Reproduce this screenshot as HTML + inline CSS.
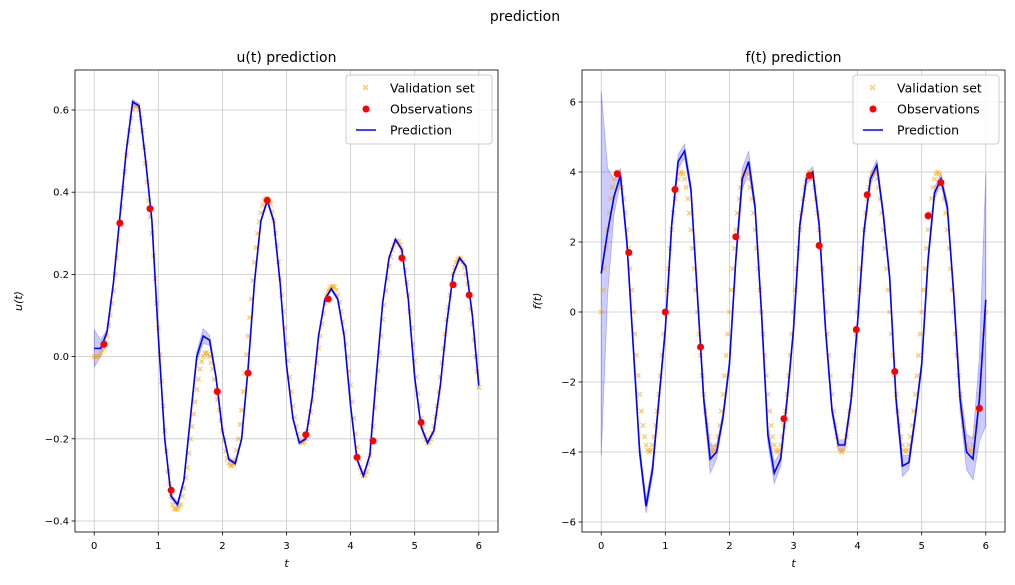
<!DOCTYPE html>
<html><head><meta charset="utf-8"><style>
html,body{margin:0;padding:0;background:#fff;overflow:hidden;width:1015px;height:585px}
svg{display:block}
svg text{font-family:"DejaVu Sans","Liberation Sans",sans-serif}
</style></head><body>
<svg id="fig" width="1015" height="585" xmlns="http://www.w3.org/2000/svg">
<text x="525" y="21" font-size="14" text-anchor="middle">prediction</text>
</svg>
<script>
const uVal=[0,0,0,0.005,0.01,0.015,0.02,0.035,0.05,0.075,0.1,0.13,0.16,0.2,0.24,0.28,0.32,0.365,0.41,0.45,0.49,0.52,0.55,0.58,0.6,0.61,0.61,0.61,0.6,0.58,0.55,0.51,0.47,0.425,0.38,0.34,0.3,0.245,0.19,0.13,0.07,0.005,-0.06,-0.12,-0.18,-0.23,-0.28,-0.31,-0.34,-0.36,-0.37,-0.372,-0.37,-0.365,-0.36,-0.34,-0.32,-0.295,-0.27,-0.235,-0.2,-0.17,-0.14,-0.11,-0.08,-0.055,-0.03,-0.012,0,0.008,0.01,0.006,0,-0.015,-0.03,-0.055,-0.08,-0.105,-0.13,-0.155,-0.18,-0.205,-0.23,-0.248,-0.26,-0.265,-0.265,-0.26,-0.25,-0.228,-0.2,-0.165,-0.13,-0.085,-0.04,0.005,0.05,0.095,0.14,0.185,0.23,0.265,0.3,0.328,0.35,0.368,0.38,0.385,0.385,0.38,0.37,0.352,0.33,0.3,0.27,0.23,0.19,0.15,0.11,0.07,0.03,-0.01,-0.05,-0.085,-0.12,-0.148,-0.17,-0.188,-0.2,-0.207,-0.21,-0.207,-0.2,-0.182,-0.16,-0.135,-0.11,-0.08,-0.05,-0.015,0.02,0.05,0.08,0.105,0.13,0.148,0.16,0.167,0.17,0.171,0.17,0.162,0.15,0.132,0.11,0.085,0.06,0.03,0,-0.035,-0.07,-0.11,-0.15,-0.188,-0.22,-0.248,-0.27,-0.283,-0.29,-0.288,-0.28,-0.262,-0.24,-0.207,-0.17,-0.125,-0.08,-0.035,0.01,0.05,0.09,0.125,0.16,0.19,0.22,0.242,0.26,0.272,0.28,0.282,0.28,0.272,0.26,0.237,0.21,0.18,0.15,0.11,0.07,0.03,-0.01,-0.05,-0.09,-0.12,-0.15,-0.172,-0.19,-0.202,-0.21,-0.208,-0.2,-0.187,-0.17,-0.147,-0.12,-0.085,-0.05,-0.015,0.02,0.055,0.09,0.12,0.15,0.177,0.2,0.217,0.23,0.237,0.24,0.237,0.23,0.217,0.2,0.177,0.15,0.115,0.08,0.04,0,-0.037,-0.075];
const fVal=[0,0.63,1.24,1.82,2.35,2.83,3.24,3.56,3.8,3.95,4,3.95,3.8,3.56,3.24,2.83,2.35,1.82,1.24,0.63,0,-0.63,-1.24,-1.82,-2.35,-2.83,-3.24,-3.56,-3.8,-3.95,-4,-3.95,-3.8,-3.56,-3.24,-2.83,-2.35,-1.82,-1.24,-0.63,
0,0.63,1.24,1.82,2.35,2.83,3.24,3.56,3.8,3.95,4,3.95,3.8,3.56,3.24,2.83,2.35,1.82,1.24,0.63,0,-0.63,-1.24,-1.82,-2.35,-2.83,-3.24,-3.56,-3.8,-3.95,-4,-3.95,-3.8,-3.56,-3.24,-2.83,-2.35,-1.82,-1.24,-0.63,
0,0.63,1.24,1.82,2.35,2.83,3.24,3.56,3.8,3.95,4,3.95,3.8,3.56,3.24,2.83,2.35,1.82,1.24,0.63,0,-0.63,-1.24,-1.82,-2.35,-2.83,-3.24,-3.56,-3.8,-3.95,-4,-3.95,-3.8,-3.56,-3.24,-2.83,-2.35,-1.82,-1.24,-0.63,
0,0.63,1.24,1.82,2.35,2.83,3.24,3.56,3.8,3.95,4,3.95,3.8,3.56,3.24,2.83,2.35,1.82,1.24,0.63,0,-0.63,-1.24,-1.82,-2.35,-2.83,-3.24,-3.56,-3.8,-3.95,-4,-3.95,-3.8,-3.56,-3.24,-2.83,-2.35,-1.82,-1.24,-0.63,
0,0.63,1.24,1.82,2.35,2.83,3.24,3.56,3.8,3.95,4,3.95,3.8,3.56,3.24,2.83,2.35,1.82,1.24,0.63,0,-0.63,-1.24,-1.82,-2.35,-2.83,-3.24,-3.56,-3.8,-3.95,-4,-3.95,-3.8,-3.56,-3.24,-2.83,-2.35,-1.82,-1.24,-0.63,
0,0.63,1.24,1.82,2.35,2.83,3.24,3.56,3.8,3.95,4,3.95,3.8,3.56,3.24,2.83,2.35,1.82,1.24,0.63,0,-0.63,-1.24,-1.82,-2.35,-2.83,-3.24,-3.56,-3.8,-3.95,-4,-3.95,-3.8,-3.56,-3.24,-2.83,-2.35,-1.82,-1.24,-0.63,0];
const uObsT=[0.15,0.4,0.87,1.2,1.92,2.4,2.7,3.3,3.65,4.1,4.35,4.8,5.1,5.6,5.85];
const uObs=[0.03,0.325,0.36,-0.325,-0.085,-0.04,0.38,-0.19,0.14,-0.245,-0.205,0.24,-0.16,0.175,0.15];
const fObsT=[0.25,0.43,1.0,1.15,1.55,2.1,2.85,3.25,3.4,3.98,4.15,4.58,5.1,5.3,5.9];
const fObs=[3.95,1.7,0,3.5,-1.0,2.15,-3.05,3.9,1.9,-0.5,3.35,-1.7,2.75,3.7,-2.75];
const uPred=[0.02,0.02,0.06,0.18,0.34,0.5,0.62,0.61,0.48,0.33,0.05,-0.2,-0.34,-0.36,-0.3,-0.15,0,0.05,0.04,-0.05,-0.18,-0.25,-0.26,-0.2,-0.03,0.18,0.33,0.38,0.33,0.18,-0.02,-0.15,-0.21,-0.2,-0.1,0.05,0.14,0.165,0.14,0.05,-0.12,-0.25,-0.29,-0.24,-0.05,0.13,0.24,0.285,0.26,0.14,-0.05,-0.17,-0.21,-0.18,-0.07,0.08,0.2,0.24,0.22,0.1,-0.07];
const uStd=[0.045,0.02,0.006,0.004,0.004,0.004,0.006,0.006,0.004,0.004,0.004,0.004,0.006,0.006,0.004,0.006,0.012,0.018,0.012,0.006,0.004,0.004,0.006,0.004,0.004,0.004,0.004,0.006,0.004,0.004,0.004,0.004,0.004,0.004,0.004,0.004,0.004,0.004,0.004,0.004,0.004,0.004,0.004,0.004,0.004,0.004,0.004,0.004,0.004,0.004,0.004,0.004,0.004,0.004,0.004,0.004,0.004,0.004,0.004,0.004,0.008];
const fPred=[1.1,2.3,3.3,3.9,2.0,-1.0,-4.0,-5.55,-4.5,-2.5,-0.5,2.5,4.3,4.6,3.5,0.5,-2.5,-4.2,-4.0,-3.0,-1.5,1.5,3.8,4.3,3.0,0,-3.5,-4.6,-4.2,-2.5,-0.5,2.5,3.8,4.0,2.5,-0.5,-2.8,-3.8,-3.8,-2.5,-0.3,2.3,3.8,4.2,2.8,1.0,-2.5,-4.4,-4.3,-3.0,-1.5,1.5,3.4,3.8,3.0,0.5,-2.5,-4.0,-4.2,-2.5,0.35];
const fStd=[5.2,1.8,0.5,0.2,0.15,0.15,0.2,0.2,0.2,0.15,0.15,0.15,0.2,0.2,0.15,0.15,0.2,0.4,0.2,0.15,0.15,0.15,0.3,0.3,0.15,0.15,0.25,0.3,0.2,0.15,0.15,0.15,0.15,0.15,0.15,0.15,0.15,0.15,0.15,0.15,0.15,0.15,0.15,0.15,0.15,0.15,0.2,0.3,0.2,0.15,0.15,0.15,0.15,0.15,0.15,0.15,0.3,0.5,0.6,1.2,3.6];
const uTicks=[-0.4,-0.2,0.0,0.2,0.4,0.6];
const fTicks=[-6,-4,-2,0,2,4,6];
const xTicks=[0,1,2,3,4,5,6];
const T_END=6;
const NS="http://www.w3.org/2000/svg";const svg=document.getElementById('fig');
function mk(tag,at,parent){const e=document.createElementNS(NS,tag);for(const k in at)e.setAttribute(k,at[k]);(parent||svg).appendChild(e);return e;}
function grid(n){const a=[];for(let i=0;i<n;i++)a.push(i*T_END/(n-1));return a;}
function panel(o){
 const tv=grid(o.val.length), tp=grid(o.pred.length);
 const g=mk('g',{});
 
 
 const cp=mk('clipPath',{id:o.name+'-clip'},g);
 mk('rect',{x:o.x0,y:o.y0,width:o.x1-o.x0,height:o.y1-o.y0},cp);
 const X=t=>o.x0+(t-o.xmin)/(o.xmax-o.xmin)*(o.x1-o.x0);
 const Y=v=>o.y1-(v-o.ymin)/(o.ymax-o.ymin)*(o.y1-o.y0);
 xTicks.forEach(t=>{const x=X(t);
  mk('line',{x1:x,x2:x,y1:o.y0,y2:o.y1,stroke:'#c8c8c8','stroke-width':0.8},g);
  mk('line',{x1:x,x2:x,y1:o.y1,y2:o.y1+3.5,stroke:'#000','stroke-width':0.8},g);
  const tx=mk('text',{x:x,y:o.y1+17,'font-size':10,'text-anchor':'middle'},g);tx.textContent=t;
  
  });
 o.yt.forEach(v=>{const y=Y(v);
  mk('line',{x1:o.x0,x2:o.x1,y1:y,y2:y,stroke:'#c8c8c8','stroke-width':0.8},g);
  mk('line',{x1:o.x0-3.5,x2:o.x0,y1:y,y2:y,stroke:'#000','stroke-width':0.8},g);
  const tx=mk('text',{x:o.x0-6,y:y+3.5,'font-size':10,'text-anchor':'end'},g);tx.textContent=o.fmt(v);
  
  });
 const pg=mk('g',{'clip-path':`url(#${o.name}-clip)`},g);
 let up=tp.map((t,i)=>X(t)+','+Y(o.pred[i]+o.std[i]));
 let lo=tp.map((t,i)=>X(t)+','+Y(o.pred[i]-o.std[i])).reverse();
 const band=mk('polygon',{points:up.concat(lo).join(' '),fill:'rgba(0,0,255,0.2)',stroke:'rgba(0,0,255,0.25)','stroke-width':0.8},pg);
 
 
 tv.forEach((t,i)=>{const x=X(t),y=Y(o.val[i]);
  const m=mk('path',{d:`M${x-2.2},${y-2.2}L${x+2.2},${y+2.2}M${x-2.2},${y+2.2}L${x+2.2},${y-2.2}`,stroke:'#ffa500','stroke-opacity':0.6,'stroke-width':1.3},pg);
  
  });
 const pl=mk('polyline',{points:tp.map((t,i)=>X(t)+','+Y(o.pred[i])).join(' '),fill:'none',stroke:'#0000ff','stroke-width':1.6},pg);
 
 
 o.ot.forEach((t,i)=>{const c=mk('circle',{cx:X(t),cy:Y(o.obs[i]),r:3.5,fill:'red'},pg);
  
  });
 mk('rect',{x:o.x0,y:o.y0,width:o.x1-o.x0,height:o.y1-o.y0,fill:'none',stroke:'#000','stroke-width':0.8},g);
 const ti=mk('text',{x:(o.x0+o.x1)/2,y:o.y0-8,'font-size':14,'text-anchor':'middle'},g);ti.textContent=o.title;
 
 
 const xl=mk('text',{x:(o.x0+o.x1)/2,y:o.y1+35,'font-size':11,'text-anchor':'middle','font-style':'italic'},g);xl.textContent='t';
 
 
 const yl=mk('text',{x:o.ylx,y:(o.y0+o.y1)/2,'font-size':11,'text-anchor':'middle','font-style':'italic',transform:`rotate(-90 ${o.ylx} ${(o.y0+o.y1)/2})`},g);yl.textContent=o.ylab;
 
 
 const lx=o.x1-152,ly=o.y0+5;
 const lg=mk('g',{},g);
 
 
 mk('rect',{x:lx,y:ly,width:146,height:69,rx:3,fill:'#fff','fill-opacity':0.8,stroke:'#ccc'},lg);
 const names=['Validation set','Observations','Prediction'];
 names.forEach((n,i)=>{const yy=ly+13+i*21;
  if(i==0)mk('path',{d:`M${lx+17},${yy-3}l5,5m-5,0l5,-5`,stroke:'#ffa500','stroke-opacity':0.6,'stroke-width':1.3},lg);
  if(i==1)mk('circle',{cx:lx+20,cy:yy,r:3.5,fill:'red'},lg);
  if(i==2)mk('line',{x1:lx+10,x2:lx+30,y1:yy,y2:yy,stroke:'#00f','stroke-width':1.6},lg);
  const t=mk('text',{x:lx+44,y:yy+4.5,'font-size':12.5},lg);t.textContent=n;
  
  });
}
panel({name:'u-panel',x0:75,x1:498,y0:70,y1:532,xmin:-0.3,xmax:6.3,ymin:-0.4-(532-521)/411,ymax:0.6+(110-70)/411,yt:uTicks,fmt:v=>v.toFixed(1).replace('-','−'),val:uVal,pred:uPred,std:uStd,ot:uObsT,obs:uObs,title:'u(t) prediction',ylab:'u(t)',ylx:22});
panel({name:'f-panel',x0:582,x1:1005,y0:70,y1:532,xmin:-0.3,xmax:6.3,ymin:-6-(532-522)/35,ymax:6+(102-70)/35,yt:fTicks,fmt:v=>String(v).replace('-','−'),val:fVal,pred:fPred,std:fStd,ot:fObsT,obs:fObs,title:'f(t) prediction',ylab:'f(t)',ylx:541});
</script>
</body></html>
